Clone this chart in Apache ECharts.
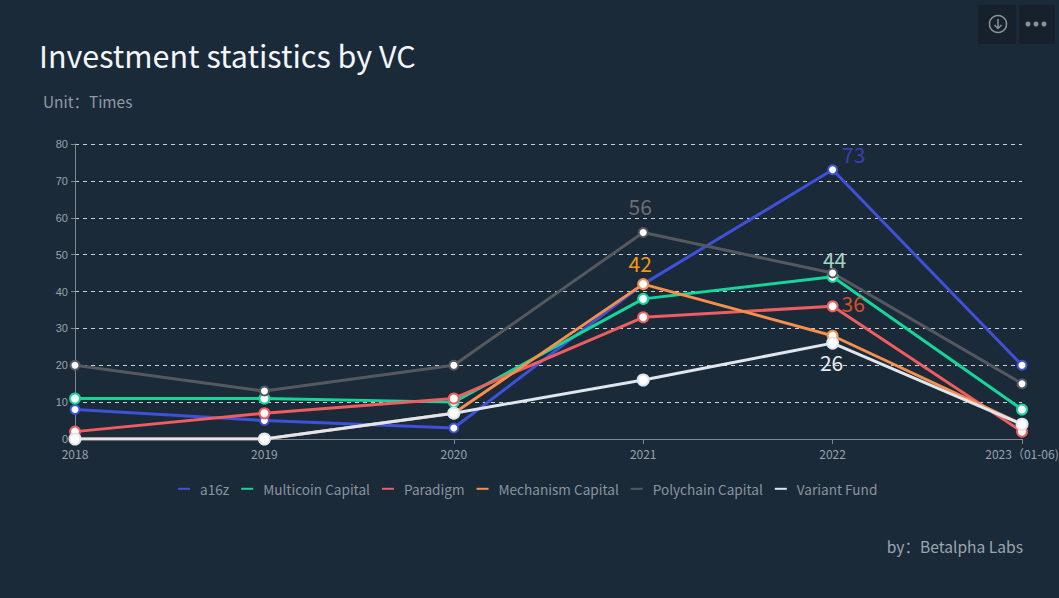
<!DOCTYPE html>
<html>
<head>
<meta charset="utf-8">
<title>Investment statistics by VC</title>
<script src="https://cdn.jsdelivr.net/npm/echarts@6/dist/echarts.min.js"></script>
<style>
  html, body { margin: 0; padding: 0; background: #1b2a38; }
  #chart { width: 1059px; height: 598px; }
</style>
</head>
<body>
<div id="chart"></div>
<script>
var years = ['2018', '2019', '2020', '2021', '2022', '2023（01-06)'];
var seriesNames = ['a16z', 'Multicoin Capital', 'Paradigm', 'Mechanism Capital', 'Polychain Capital', 'Variant Fund'];
var a16z = [8, 5, 3, 42, 73, 20];
var multicoin = [11, 11, 10, 38, 44, 8];
var paradigm = [2, 7, 11, 33, 36, 2];
var mechanism = [0, 0, 7, 42, 28, 4];
var polychain = [20, 13, 20, 56, 45, 15];
var variant = [0, 0, 7, 16, 26, 4];
var seriesValues = [a16z, multicoin, paradigm, mechanism, polychain, variant];
var lineColors = ['#3f51d9', '#17d499', '#ee5d5f', '#f58f4e', '#55595f', '#dfe6ef'];
var symbolSizes = [9, 10, 10, 10, 9, 11];
// one highlighted value per series: year index, label colour, placement
var callouts = [
  { at: 4, color: '#3b3fb0', position: 'right', offset: [-1, -16] },
  { at: 4, color: '#a6d2c2', position: 'top', offset: [2, 4] },
  { at: 4, color: '#d4502a', position: 'right', offset: [-2, -3] },
  { at: 3, color: '#f09a14', position: 'top', offset: [-3, 0] },
  { at: 3, color: '#6a6f76', position: 'top', offset: [-3, -6] },
  { at: 4, color: '#e8edf3', position: 'bottom', offset: [-1, -3] }
];
var font = '"Noto Sans CJK SC", "Noto Sans", sans-serif';

var series = seriesNames.map(function(name, i) {
  return {
    name: name,
    type: 'line',
    symbol: 'circle',
    symbolSize: symbolSizes[i],
    lineStyle: { color: lineColors[i], width: 3 },
    itemStyle: { color: '#ffffff', borderColor: lineColors[i], borderWidth: 2 },
    data: seriesValues[i].map(function(v, j) {
      if (j !== callouts[i].at) return v;
      return {
        value: v,
        label: {
          show: true,
          position: callouts[i].position,
          offset: callouts[i].offset,
          color: callouts[i].color,
          fontSize: 21,
          fontFamily: font
        }
      };
    })
  };
});

var chart = echarts.init(document.getElementById('chart'), null, { renderer: 'svg' });
chart.setOption({
  animation: false,
  backgroundColor: '#1b2a38',
  textStyle: { fontFamily: font },
  title: {
    text: 'Investment statistics by VC',
    left: 39,
    top: 40,
    padding: 0,
    textStyle: { color: '#f2f6fa', fontSize: 30.5, fontWeight: 400, fontFamily: font }
  },
  legend: {
    left: 173,
    top: 477,
    icon: 'rect',
    itemWidth: 12,
    itemHeight: 2,
    itemGap: 12,
    textStyle: { color: '#8a94a0', fontSize: 13.6, fontFamily: font, padding: [0, 0, 0, 5] },
    data: seriesNames.map(function(name, i) {
      return { name: name, itemStyle: { color: lineColors[i], borderWidth: 0 } };
    })
  },
  grid: { left: 75, right: 37, top: 144, bottom: 159, outerBoundsMode: 'none' },
  xAxis: {
    type: 'category',
    boundaryGap: false,
    data: years,
    axisLine: { lineStyle: { color: '#7b8793' } },
    axisTick: { lineStyle: { color: '#7b8793' } },
    axisLabel: { color: '#98a2ad', fontSize: 12, margin: 8, fontFamily: font }
  },
  yAxis: {
    type: 'value',
    min: 0,
    max: 80,
    interval: 10,
    axisLine: { show: true, lineStyle: { color: '#7b8793' } },
    axisTick: { show: true, length: 4, lineStyle: { color: '#7b8793' } },
    axisLabel: { color: '#9aa3ad', fontSize: 11, margin: 7, fontFamily: '"Liberation Sans", sans-serif' },
    splitLine: { lineStyle: { color: '#cdd2d8', type: [4, 4], width: 1 } }
  },
  series: series,
  graphic: [
    { type: 'text', left: 43, top: 93, style: { text: 'Unit：Times', fill: '#8f9aa6', fontSize: 15.4, fontFamily: font } },
    { type: 'text', right: 36, top: 538, style: { text: 'by：Betalpha Labs', fill: '#9aa5b1', fontSize: 15.6, fontFamily: font } },
    { type: 'rect', shape: { x: 978, y: 5, width: 38, height: 39, r: 2 }, style: { fill: '#16212c' } },
    { type: 'rect', shape: { x: 1019, y: 5, width: 36, height: 39, r: 2 }, style: { fill: '#16212c' } },
    { type: 'circle', shape: { cx: 998, cy: 24, r: 8.5 }, style: { fill: 'none', stroke: '#8a929b', lineWidth: 1.5 } },
    { type: 'polyline', shape: { points: [[998, 19], [998, 28]] }, style: { fill: 'none', stroke: '#8a929b', lineWidth: 1.5 } },
    { type: 'polyline', shape: { points: [[994.5, 25], [998, 28.5], [1001.5, 25]] }, style: { fill: 'none', stroke: '#8a929b', lineWidth: 1.5 } },
    { type: 'circle', shape: { cx: 1028, cy: 24, r: 2.5 }, style: { fill: '#8a929b' } },
    { type: 'circle', shape: { cx: 1036, cy: 24, r: 2.5 }, style: { fill: '#8a929b' } },
    { type: 'circle', shape: { cx: 1044, cy: 24, r: 2.5 }, style: { fill: '#8a929b' } }
  ]
});
window.addEventListener('resize', function() { chart.resize(); });
</script>
</body>
</html>
